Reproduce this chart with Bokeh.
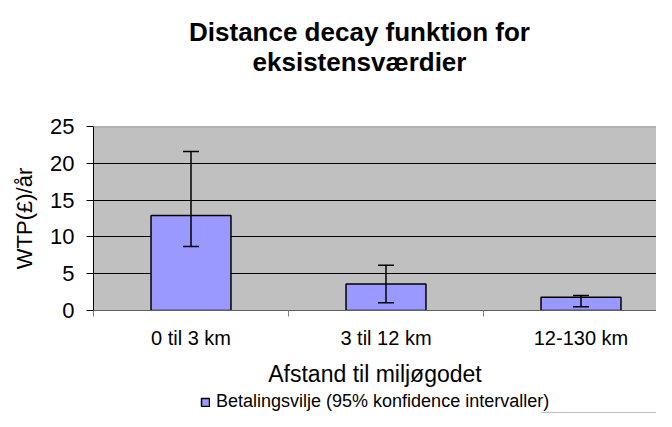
from bokeh.plotting import figure
from bokeh.layouts import column
from bokeh.models import (Range1d, FixedTicker, Whisker, TeeHead, ColumnDataSource,
                          Legend, LegendItem, Label, Span)
from bokeh.embed import file_html
from bokeh.resources import INLINE

title_lines = ["Distance decay funktion for", "eksistensværdier"]
categories = ["0 til 3 km", "3 til 12 km", "12-130 km"]
wtp = [12.9, 3.6, 1.8]
ci_low = [8.7, 1.05, 0.5]
ci_high = [21.6, 6.15, 2.05]
y_ticks = [0, 5, 10, 15, 20, 25]
series_name = "Betalingsvilje (95% konfidence intervaller)"

FONT = "Liberation Sans"
W = 656
LEFT = 93
xs = [i + 1 for i in range(len(categories))]
bounds = [i + 0.5 for i in range(len(categories) + 1)]
src = ColumnDataSource(dict(x=xs, top=wtp, lower=ci_low, upper=ci_high))


def blank(height):
    f = figure(width=W, height=height, output_backend="svg", toolbar_location=None,
               x_axis_type=None, y_axis_type=None, x_range=Range1d(0, 1), y_range=Range1d(100, 200),
               min_border_left=0, min_border_right=0, min_border_top=0, min_border_bottom=0)
    f.outline_line_color = None
    f.background_fill_color = "white"
    f.border_fill_color = "white"
    f.grid.visible = False
    return f


# ---- title strip (frame is aligned with the main chart's frame, so x is relative to LEFT)
pt = blank(100)
for line, ty in zip(title_lines, [69, 39]):
    pt.add_layout(Label(x=359 - LEFT, y=ty, x_units="screen", y_units="screen", text=line,
                        text_align="center", text_baseline="middle",
                        text_font=FONT, text_font_size="26px", text_font_style="bold",
                        text_color="black"))

# ---- main chart
p = figure(frame_width=W - LEFT, frame_height=184, output_backend="svg", toolbar_location=None,
           x_range=Range1d(0.5, 0.5 + (W - LEFT) / 195), y_range=Range1d(0, 25),
           min_border_left=LEFT, min_border_right=0, min_border_top=26, min_border_bottom=77)

p.background_fill_color = "#C0C0C0"
p.border_fill_color = "white"
p.outline_line_color = None

bars = p.vbar(x="x", top="top", width=0.41, bottom=0, source=src,
              fill_color="#9999FF", line_color="black", line_width=1.5)

wh = Whisker(source=src, base="x", upper="upper", lower="lower",
             line_color="black", line_width=1.5, level="overlay",
             upper_head=TeeHead(size=16, line_color="black", line_width=1.5),
             lower_head=TeeHead(size=16, line_color="black", line_width=1.5))
p.add_layout(wh)

p.add_layout(Span(location=25, dimension="width", line_color="#808080", line_width=1.5))

p.yaxis.ticker = FixedTicker(ticks=y_ticks)
p.yaxis.major_tick_out = 7
p.yaxis.major_tick_in = 0
p.yaxis.minor_tick_out = 0
p.yaxis.axis_line_color = "black"
p.yaxis.major_tick_line_color = "black"
p.yaxis.major_label_text_font = FONT
p.yaxis.major_label_text_font_size = "22px"
p.yaxis.major_label_text_color = "black"
p.yaxis.major_label_standoff = 12
p.yaxis.axis_label = "WTP(£)/år"
p.yaxis.axis_label_text_font = FONT
p.yaxis.axis_label_text_font_size = "22px"
p.yaxis.axis_label_text_font_style = "normal"
p.yaxis.axis_label_text_color = "black"
p.yaxis.axis_label_standoff = 10

p.xaxis.ticker = FixedTicker(ticks=xs, minor_ticks=bounds)
p.xaxis.major_label_overrides = {x: c for x, c in zip(xs, categories)}
p.xaxis.major_tick_out = 0
p.xaxis.major_tick_in = 0
p.xaxis.minor_tick_out = 6
p.xaxis.minor_tick_in = 0
p.xaxis.minor_tick_line_color = "#808080"
p.xaxis.axis_line_color = "#606060"
p.xaxis.major_label_text_font = FONT
p.xaxis.major_label_text_font_size = "20px"
p.xaxis.major_label_text_color = "black"
p.xaxis.major_label_standoff = 10
p.xaxis.axis_label = "Afstand til miljøgodet"
p.xaxis.axis_label_text_font = FONT
p.xaxis.axis_label_text_font_size = "23px"
p.xaxis.axis_label_text_font_style = "normal"
p.xaxis.axis_label_text_color = "black"
p.xaxis.axis_label_standoff = 9

p.ygrid.ticker = FixedTicker(ticks=[5, 10, 15, 20])
p.ygrid.grid_line_color = "black"
p.ygrid.grid_line_width = 1
p.xgrid.visible = False

# ---- legend strip
pl = blank(24)
lbars = pl.vbar(x="x", top="top", width=0.41, bottom=0, source=src,
                fill_color="#9999FF", line_color="black", line_width=1.5)
legend = Legend(items=[LegendItem(label=series_name, renderers=[lbars])],
                location=(200 - LEFT, 1), orientation="horizontal",
                border_line_color=None, background_fill_alpha=0,
                glyph_width=10, glyph_height=10, label_standoff=6,
                label_text_font=FONT, label_text_font_size="18px",
                label_text_color="black",
                padding=0, margin=0)
pl.add_layout(legend)

layout = column(pt, p, pl, spacing=0)
open("out.html", "w").write(file_html(layout, INLINE))
